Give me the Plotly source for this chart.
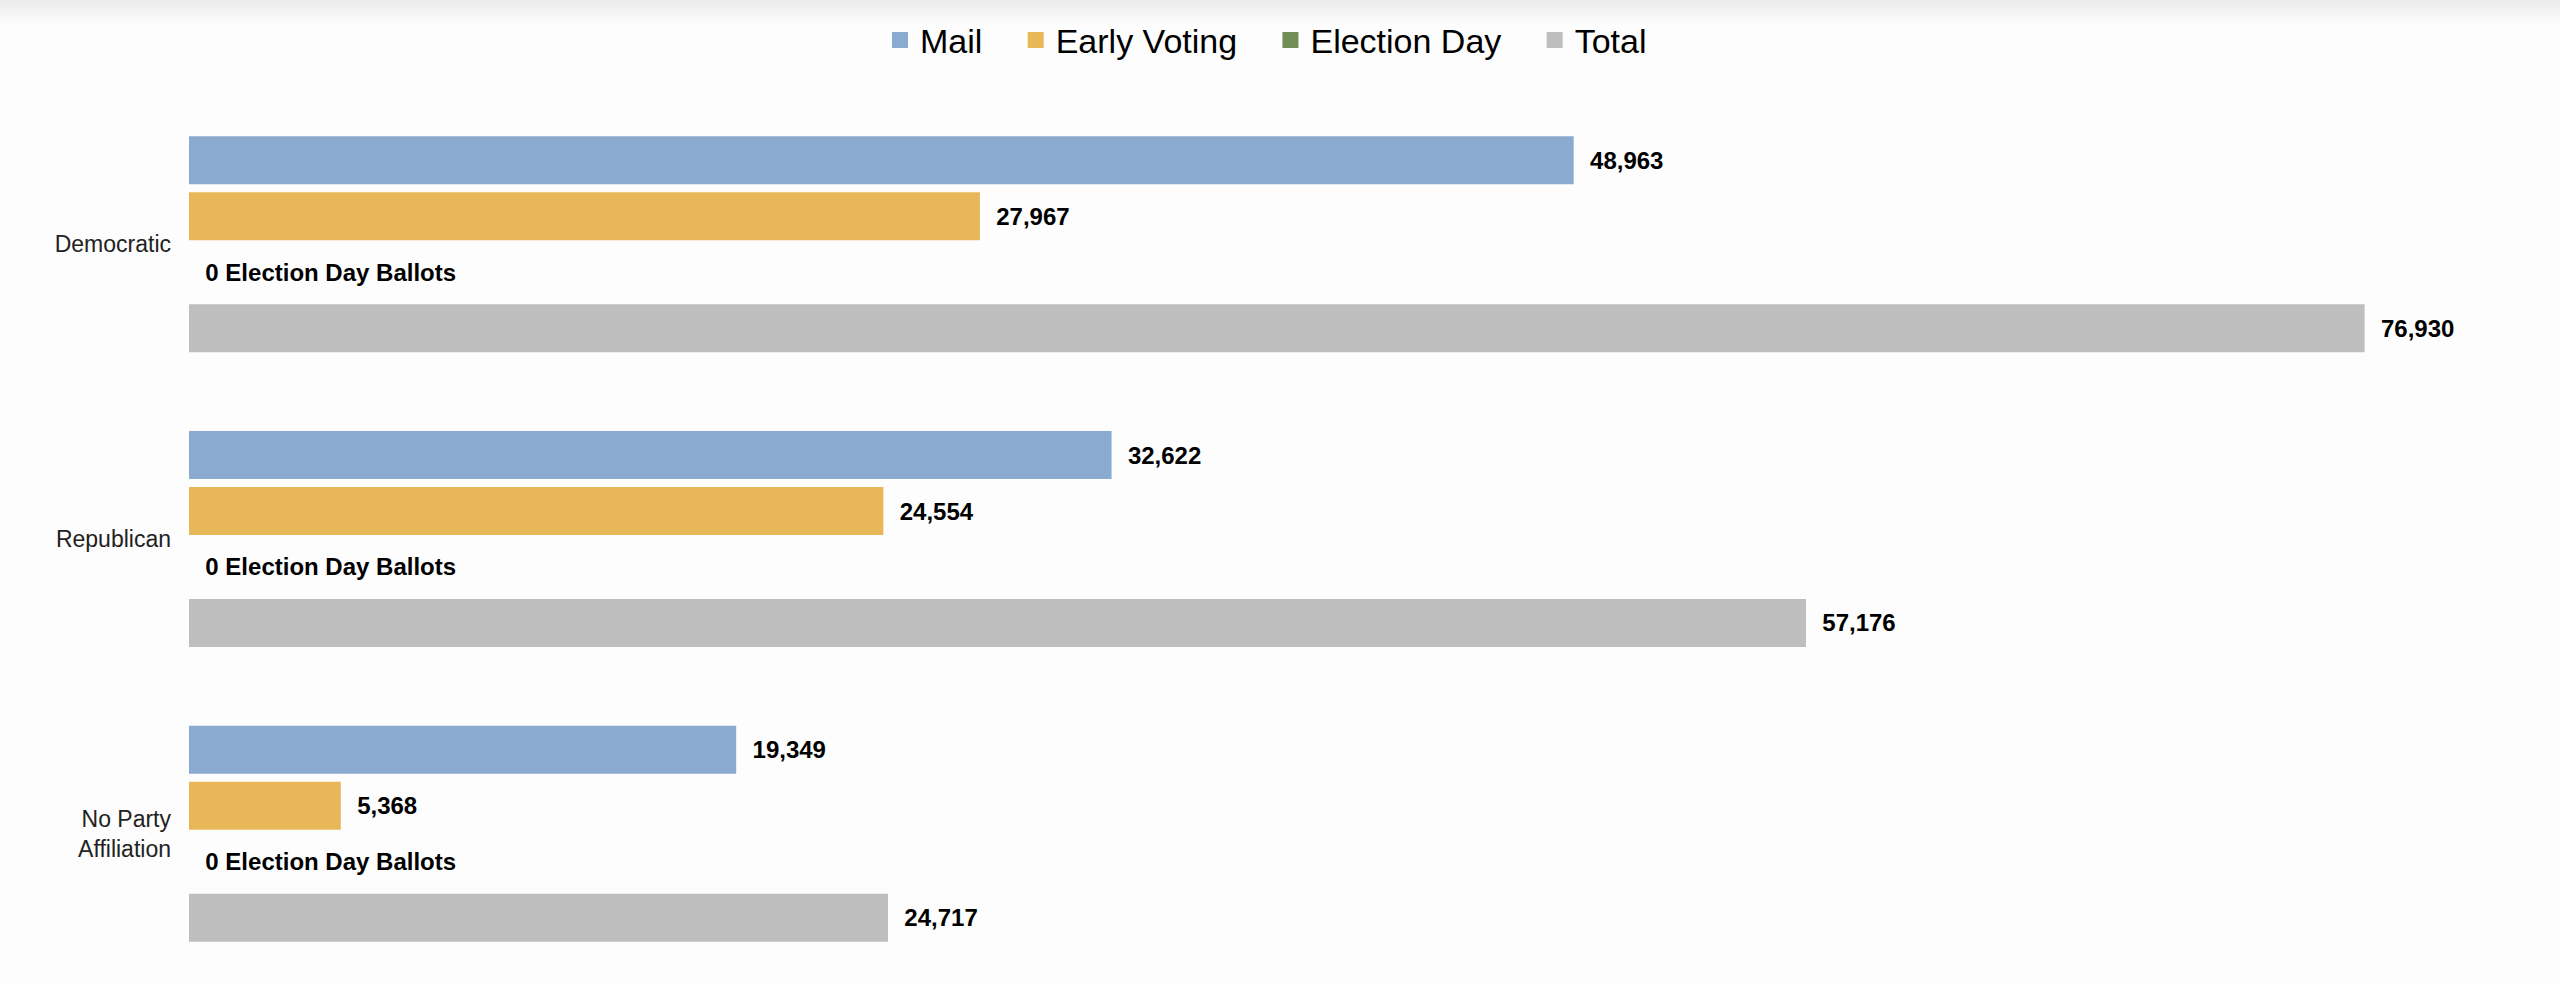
import plotly.graph_objects as go

parties = ["Democratic", "Republican", "No Party<br>Affiliation"]
mail = [48963, 32622, 19349]
early_voting = [27967, 24554, 5368]
election_day = [0, 0, 0]
total = [76930, 57176, 24717]

series = [
    ("Mail", mail, "#8AAAD0"),
    ("Early Voting", early_voting, "#E8B858"),
    ("Election Day", election_day, "#708E56"),
    ("Total", total, "#BEBEBE"),
]

W, H = 2560, 984
ML, MR, MT, MB = 189, 52, 97, 3
pad = "\u00a0\u00a0"

fig = go.Figure()
for name, vals, color in series:
    if name == "Election Day":
        tmpl = pad + "%{x:,} Election Day Ballots"
    else:
        tmpl = pad + "%{x:,}"
    fig.add_trace(go.Bar(
        y=parties, x=vals, name=name, orientation="h",
        marker=dict(color=color, line=dict(width=0)),
        texttemplate=tmpl, textposition="outside",
        textfont=dict(size=24, color="#000000", weight="bold"),
        cliponaxis=False, hoverinfo="x+name", showlegend=False,
    ))
    # legend entry with a bigger square swatch
    fig.add_trace(go.Scatter(
        x=[None], y=[None], mode="markers", name=name + "\u00a0\u00a0\u00a0",
        marker=dict(symbol="square", size=16, color=color),
        hoverinfo="skip",
    ))

# soft grey shade along the top edge
plot_w = W - ML - MR
plot_h = H - MT - MB
steps = 13
for i in range(steps):
    g = int(0xEC + (0xFD - 0xEC) * i / (steps - 1))
    y0 = 1 + (MT - 2 * i) / plot_h
    y1 = 1 + (MT - 2 * (i + 1)) / plot_h
    fig.add_shape(type="rect", xref="paper", yref="paper",
                  x0=-ML / plot_w, x1=(W - ML) / plot_w, y0=y1, y1=y0,
                  fillcolor=f"rgb({g},{g},{g})", line=dict(width=0), layer="below")

fig.update_layout(
    width=W, height=H,
    barmode="group", bargap=0.24, bargroupgap=0.143,
    paper_bgcolor="#fdfdfd", plot_bgcolor="#fdfdfd",
    font=dict(family="Liberation Sans, Arial, sans-serif", color="#222222"),
    margin=dict(l=ML, r=MR, t=MT, b=MB, autoexpand=False),
    legend=dict(
        orientation="h", xref="container", x=0.5, xanchor="center",
        yref="container", y=0.959, yanchor="middle",
        font=dict(size=34, color="#000000"),
        bgcolor="rgba(0,0,0,0)",
        traceorder="normal", itemsizing="trace",
    ),
)
fig.update_xaxes(range=[0, 82000], visible=False, showgrid=False, zeroline=False)
fig.update_yaxes(autorange="reversed", showgrid=False, zeroline=False, showline=False,
                 ticks="", ticklabelstandoff=17, automargin=False,
                 tickfont=dict(size=23, color="#222222"))

# no page margin, so the figure sits at the window's corner
fig.write_html("out.html", config={"displayModeBar": False},
               post_script="document.body.style.margin='0';")
